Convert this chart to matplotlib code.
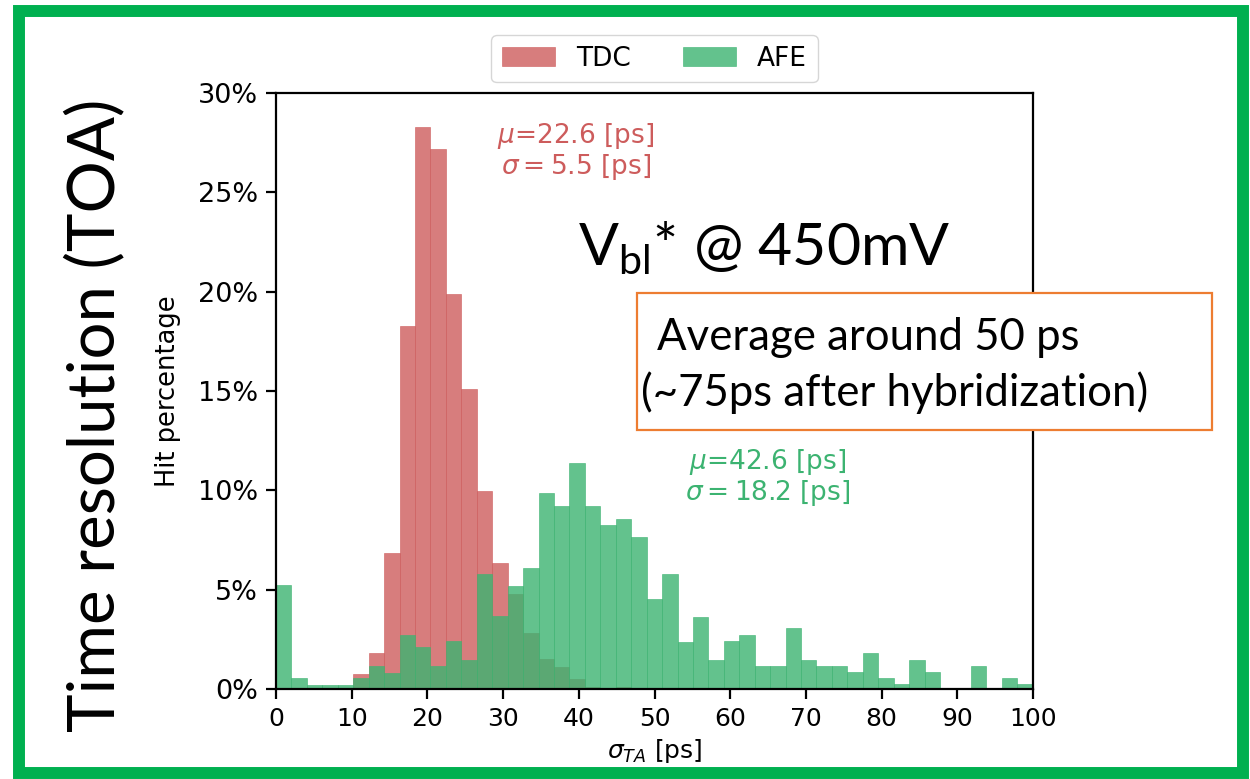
import matplotlib
matplotlib.use("Agg")
import matplotlib.pyplot as plt
from matplotlib.patches import Rectangle
from matplotlib.ticker import FuncFormatter, MultipleLocator
import numpy as np

# hit percentage per bin (50 bins starting at 0 ps)
tdc_pct = [0, 0, 0, 0, 0, 0.75, 1.8, 6.83, 18.28, 28.27,
           27.2, 19.9, 15.08, 9.97, 6.36, 4.78, 2.8, 1.5, 1.1, 0.5,
           0.1, 0.05, 0.1, 0, 0, 0, 0, 0, 0, 0,
           0, 0, 0, 0, 0, 0, 0, 0, 0, 0,
           0, 0, 0, 0, 0, 0, 0, 0, 0, 0]
afe_pct = [5.22, 0.55, 0.22, 0.22, 0.22, 0.55, 1.16, 0.82, 2.7, 2.12,
           1.16, 2.4, 1.47, 5.79, 3.66, 5.18, 6.1, 9.85, 9.19, 11.38,
           9.19, 8.27, 8.57, 7.63, 4.55, 5.79, 2.37, 3.64, 1.47, 2.4,
           2.7, 1.17, 1.17, 3.05, 1.48, 1.17, 1.17, 0.84, 1.8, 0.55,
           0.25, 1.48, 0.84, 0, 0, 1.17, 0, 0.55, 0.25, 0]
bin_width = 2.04

tdc_label = "TDC"
afe_label = "AFE"
tdc_note = "$\\mu$=22.6 [ps]\n$\\sigma = 5.5$ [ps]"
afe_note = "$\\mu$=42.6 [ps]\n$\\sigma = 18.2$ [ps]"

W, H = 1250, 779
fig = plt.figure(figsize=(W / 100, H / 100), dpi=100)
fig.patch.set_facecolor("white")

ax = fig.add_axes([276 / W, 1 - 689 / H, (1033 - 276) / W, (689 - 93) / H])
left = np.arange(len(tdc_pct)) * bin_width
ax.bar(left, tdc_pct, width=bin_width, align="edge", color="indianred",
       alpha=0.8, label=tdc_label, edgecolor="indianred", linewidth=0.5)
ax.bar(left, afe_pct, width=bin_width, align="edge", color="mediumseagreen",
       alpha=0.8, label=afe_label, edgecolor="mediumseagreen", linewidth=0.5)

ax.set_xlim(0, 100)
ax.set_ylim(0, 30)
ax.xaxis.set_major_locator(MultipleLocator(10))
ax.yaxis.set_major_locator(MultipleLocator(5))
ax.yaxis.set_major_formatter(FuncFormatter(lambda v, p: f"{v:.0f}%"))
ax.tick_params(length=7, width=1.6, pad=6)
ax.tick_params(axis="x", labelsize=18)
ax.tick_params(axis="y", labelsize=19.5)
for s in ax.spines.values():
    s.set_linewidth(1.6)
ax.set_xlabel("$\\sigma_{TA}$ [ps]", fontsize=18, labelpad=4)
ax.set_ylabel("Hit percentage", fontsize=18.5, labelpad=12)

ax.legend(loc="lower center", bbox_to_anchor=(0.5, 1.0), ncol=2,
          fontsize=19, frameon=True, borderaxespad=0.4, columnspacing=2.0)

ax.text(0.396, 0.902, tdc_note, transform=ax.transAxes, ha="center",
        va="center", color="indianred", fontsize=19, linespacing=1.05)
ax.text(0.650, 0.355, afe_note, transform=ax.transAxes, ha="center",
        va="center", color="mediumseagreen", fontsize=19, linespacing=1.05)

# slide-level texts
calibri = ["Lato", "DejaVu Sans"]
fig.text(95 / W, 1 - 415 / H, "Time resolution (TOA)", rotation=90,
         ha="center", va="center", fontsize=47, family=calibri)
fig.text(578 / W, 1 - 265 / H, "V$_\\mathregular{bl}$* @ 450mV",
         ha="left", va="baseline", fontsize=42.5, family=calibri)

box = Rectangle((637 / W, 1 - 430 / H), 575 / W, 137 / H,
                transform=fig.transFigure, facecolor="white",
                edgecolor="#ED7D31", linewidth=1.6, zorder=5)
fig.add_artist(box)
fig.text(657 / W, 1 - 337 / H, "Average around 50 ps", ha="left",
         va="center", fontsize=31.5, family=calibri, zorder=6)
fig.text(641 / W, 1 - 393 / H, "(~75ps after hybridization)", ha="left",
         va="center", fontsize=31.5, family=calibri, zorder=6)

frame = Rectangle((19 / W, 6 / H), 1224 / W, 762 / H,
                  transform=fig.transFigure, fill=False,
                  edgecolor="#00B050", linewidth=8.6, zorder=10)
fig.add_artist(frame)

fig.savefig("out.png", dpi=100)
